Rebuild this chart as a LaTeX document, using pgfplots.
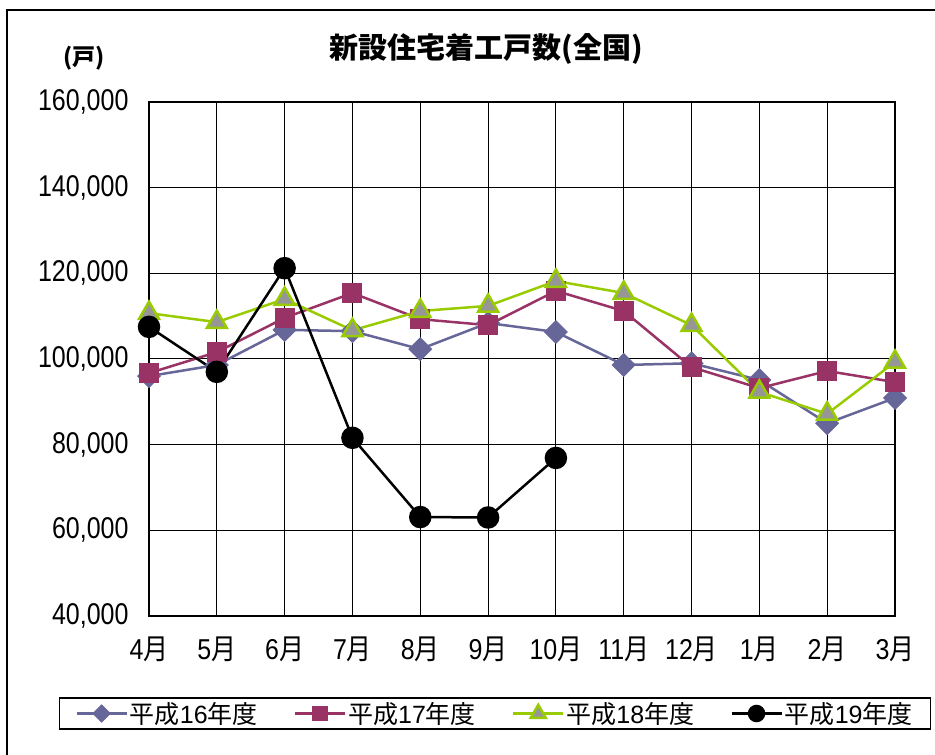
\documentclass[border=0pt]{standalone}
\usepackage{fontspec}
\setmainfont{Liberation Sans}
\newfontfamily\cjk{Noto Sans CJK JP}
\usepackage{pgfplots}
\pgfplotsset{compat=1.18}
\definecolor{c16}{HTML}{666699}
\definecolor{c17}{HTML}{993366}
\definecolor{c18}{HTML}{99CC00}
\definecolor{c18f}{HTML}{969696}
\begin{document}
\begin{tikzpicture}[x=1pt,y=1pt]
\useasboundingbox (0,0) rectangle (935,755);
\draw[line width=1.5pt] (7,-5) -- (7,745) -- (940,745);
\node[font={\cjk\bfseries\fontsize{29}{34}\selectfont}] at (486,706) {新設住宅着工戸数(全国)};
\node[font={\cjk\bfseries\fontsize{23}{27}\selectfont}] at (84,697) {(戸)};
\begin{axis}[at={(149pt,139pt)}, anchor=south west, scale only axis,
  width=746pt, height=514pt,
  xmin=0, xmax=11, ymin=40000, ymax=160000,
  scaled y ticks=false,
  xtick={0,...,11},
  xticklabels={4{\cjk 月},5{\cjk 月},6{\cjk 月},7{\cjk 月},8{\cjk 月},9{\cjk 月},10{\cjk 月},11{\cjk 月},12{\cjk 月},1{\cjk 月},2{\cjk 月},3{\cjk 月}},
  ytick={40000,60000,80000,100000,120000,140000,160000},
  yticklabels={{40,000},{60,000},{80,000},{100,000},{120,000},{140,000},{160,000}},
  xticklabel style={font=\fontsize{25}{30}\selectfont, yscale=1.15, yshift=-15pt},
  yticklabel style={font=\fontsize{25}{30}\selectfont, yscale=1.2, xshift=-17pt},
  major tick length=0pt,
  grid=major,
  grid style={line width=1pt, black},
  axis line style={line width=2pt},
  clip=false,
  legend columns=4,
  legend style={at={(0.4638,-0.1897)}, anchor=center, draw=black, line width=1.5pt,
    font=\fontsize{25}{29}\selectfont, inner xsep=16pt, inner ysep=2pt,
    /tikz/every odd column/.append style={column sep=0pt},
    /tikz/every even column/.append style={column sep=34pt}},
  legend image code/.code={\draw[mark repeat=2,mark phase=2] plot coordinates {(0pt,0pt) (25pt,0pt) (50pt,0pt)};},
  legend image post style={/tikz/every mark/.append style={scale=0.75}},
]
\addplot[c16, line width=2.5pt, mark=square*, mark size=8pt, mark options={rotate=45, fill=c16, draw=c16, line width=1pt}]
coordinates {(0,96000) (1,98600) (2,106800) (3,106500) (4,102300) (5,108400) (6,106300) (7,98600) (8,99000) (9,95100) (10,85000) (11,90900)};
\addlegendentry{{\cjk 平成}16{\cjk 年度}}
\addplot[c17, line width=2.5pt, mark=square*, mark size=9.5pt, mark options={fill=c17, draw=c17, line width=1pt}]
coordinates {(0,96700) (1,101600) (2,109600) (3,115400) (4,109300) (5,107900) (6,115900) (7,111200) (8,98100) (9,93200) (10,97200) (11,94600)};
\addlegendentry{{\cjk 平成}17{\cjk 年度}}
\addplot[c18, line width=2.5pt, mark=triangle*, mark size=11.5pt, mark options={fill=c18f, draw=c18, line width=2.5pt}]
coordinates {(0,110700) (1,108600) (2,114000) (3,106700) (4,111200) (5,112400) (6,118200) (7,115400) (8,107900) (9,92300) (10,87200) (11,99300)};
\addlegendentry{{\cjk 平成}18{\cjk 年度}}
\addplot[black, line width=2.5pt, mark=*, mark size=10pt, mark options={fill=black, draw=black}]
coordinates {(0,107500) (1,97000) (2,121200) (3,81600) (4,63100) (5,63000) (6,76900)};
\addlegendentry{{\cjk 平成}19{\cjk 年度}}
\end{axis}
\end{tikzpicture}
\end{document}
